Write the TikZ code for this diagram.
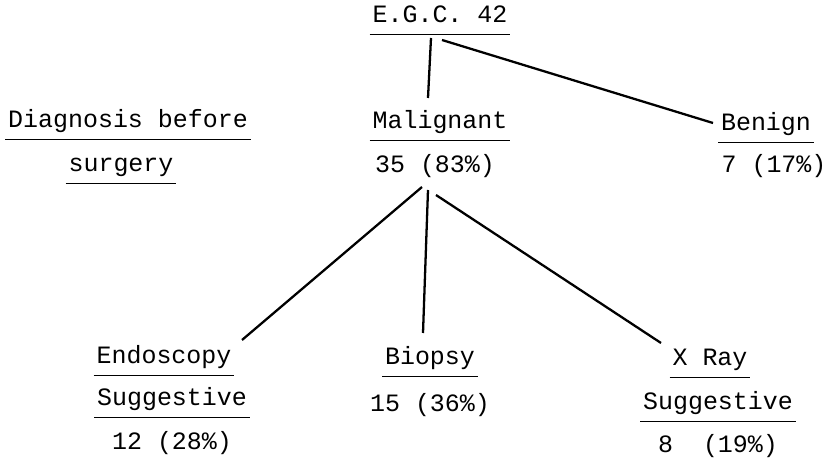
\documentclass[tikz,border=0pt]{standalone}
\usepackage{fontspec}
\newfontfamily\typewriter{Liberation Mono}
\usetikzlibrary{calc, positioning}

\tikzset{
  lbl/.style={font=\typewriter\fontsize{14.2pt}{17pt}\selectfont, anchor=base, inner xsep=1.5pt, inner ysep=0pt},
  ul/.style={lbl, text depth=0.22cm,
    append after command={(\tikzlastnode.south west) edge[line width=0.9pt] (\tikzlastnode.south east)}},
  branch/.style={line width=1.3pt}
}

\begin{document}
\begin{tikzpicture}[x=0.02cm, y=-0.02cm]
	\useasboundingbox (0,0) rectangle (829,462);
	
	% top of the tree
	\node[ul] (egc) at (440,23) {E.G.C. 42};
	\node[ul] (diag) at (128,128) {Diagnosis before};
	\node[ul] (surg) at (121,172) {surgery};
	
	\node[ul] (mal) at (440,129) {Malignant};
	\node[lbl] (malN) at (435,173) {35 (83\%)};
	\node[ul] (ben) at (766,131) {Benign};
	\node[lbl] (benN) at (774,173) {7 (17\%)};
	
	% bottom row
	\node[ul] (endo) at (164,364) {Endoscopy};
	\node[ul] (endoS) at (172,406) {Suggestive};
	\node[lbl] (endoN) at (172,450) {12 (28\%)};
	
	\node[ul] (bio) at (430,365) {Biopsy};
	\node[lbl] (bioN) at (430,412) {15 (36\%)};
	
	\node[ul] (xray) at (710,366) {X Ray};
	\node[ul] (xrayS) at (718,410) {Suggestive};
	\node[lbl] (xrayN) at (718,453) {8\ \ (19\%)};
	
	\coordinate (egcL) at (431,38);
	\coordinate (malT) at (428,98);
	\coordinate (egcR) at (442,40);
	\coordinate (benL) at (713,123);
	\coordinate (malB1) at (422,187);
	\coordinate (endoT) at (242,340);
	\coordinate (malB2) at (428,190);
	\coordinate (bioT) at (423,333);
	\coordinate (malB3) at (436,195);
	\coordinate (xrayT) at (661,343);
	
	\draw[branch] (egcL) -- (malT);
	\draw[branch] (egcR) -- (benL);
	\draw[branch] (malB1) -- (endoT);
	\draw[branch] (malB2) -- (bioT);
	\draw[branch] (malB3) -- (xrayT);
	
\end{tikzpicture}
\end{document}
